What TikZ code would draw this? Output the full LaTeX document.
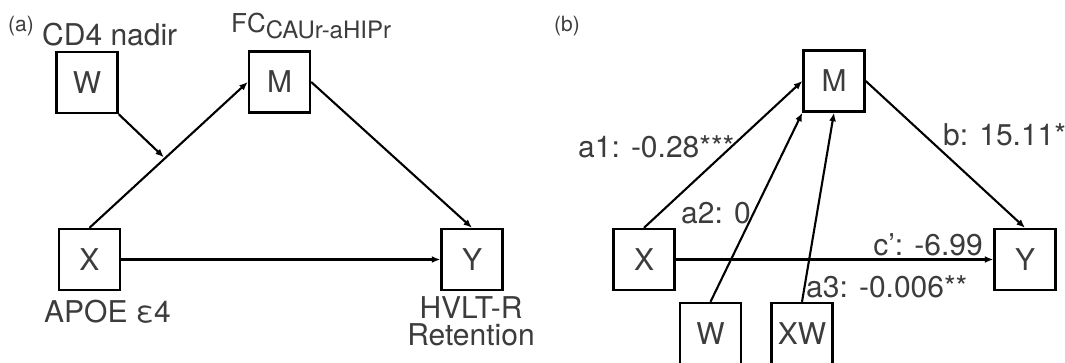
\documentclass[tikz,border=0pt]{standalone}
\usepackage{fontspec}
\setmainfont{TeX Gyre Heros}
\usetikzlibrary{arrows.meta,calc}
\definecolor{txt}{HTML}{3C3C3C}
\begin{document}
\begin{tikzpicture}[x=1pt,y=-1pt,
  box/.style={draw, line width=2.4pt, minimum size=61pt, inner sep=0pt,
              font=\fontsize{30}{34}\selectfont, text=txt},
  lbl/.style={font=\fontsize{30}{34}\selectfont, text=txt, inner sep=0pt},
  tag/.style={font=\fontsize{21}{24}\selectfont, text=txt, inner sep=0pt},
  arr/.style={line width=2.1pt, -{Latex[length=8.5pt,width=7pt]}},
]
\useasboundingbox (0,0) rectangle (1065,362);

% ---------- panel (a) ----------
\node[tag, anchor=base west] (atag) at (8,31) {(a)};
\node[box] (aW) at (87,82.5) {W};
\node[box] (aM) at (279.5,82) {M};
\node[box] (aX) at (89.5,259.5) {X};
\node[box] (aY) at (472,259.5) {Y};

\node[lbl, anchor=base west] (aWl) at (42,45) {CD4 nadir};
\node[lbl, anchor=base west] (aMl) at (231,32.5)
  {\fontsize{26}{30}\selectfont FC\raisebox{-5.6pt}{\fontsize{24}{28}\selectfont CAUr-aHIPr}};
\node[lbl, anchor=base west] (aXl) at (44,322) {APOE ε4};
\node[lbl, anchor=north, align=center, font=\fontsize{30}{27}\selectfont]
  (aYl) at (471,296.5) {HVLT-R\\Retention};

\draw[arr] (aX.north) -- (aM.west) coordinate[pos=0.47] (amid);
\draw[arr] (aM.east) -- (aY.north);
\draw[arr] (aX.east) -- (aY.west);
\draw[arr] (aW.south east) -- ($(amid)+(0,-2)$);

% ---------- panel (b) ----------
\node[tag, anchor=base west] (btag) at (554,31) {(b)};
\node[box] (bM) at (834,81) {M};
\node[box] (bX) at (644,259.5) {X};
\node[box] (bY) at (1025,259.5) {Y};
\node[box] (bW) at (710.5,333.5) {W};
\node[box] (bXW) at (802,333.5) {XW};

\draw[arr] (bX.north) -- (bM.west);
\draw[arr] (bW.north) -- (bM.south west);
\draw[arr] (bXW.north) -- (bM.south);
\draw[arr] (bM.east) -- (bY.north);
\draw[arr] (bX.east) -- (bY.west);

\node[lbl, anchor=base west] (la1) at (578,157) {a1: -0.28***};
\node[lbl, anchor=base west] (la2) at (681,223) {a2: 0};
\node[lbl, anchor=base east] (lc) at (983,255) {c’: -6.99};
\node[lbl, anchor=base west] (la3) at (806,297) {a3: -0.006**};
\node[lbl, anchor=base west] (lb) at (943,145) {b: 15.11*};
\end{tikzpicture}
\end{document}
